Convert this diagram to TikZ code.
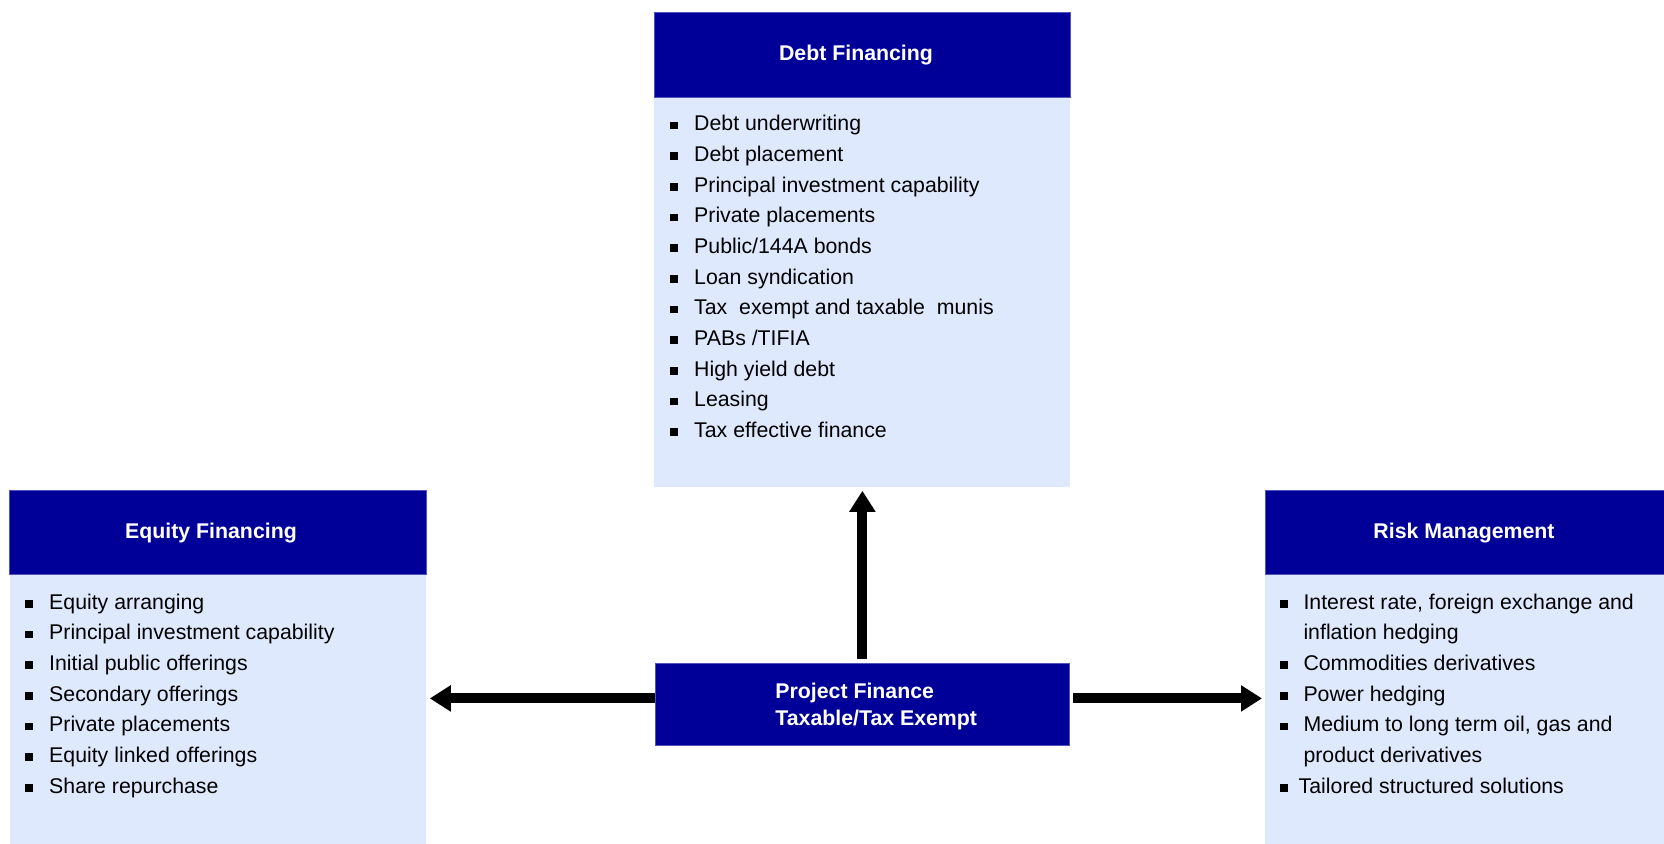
\documentclass[tikz,border=0pt]{standalone}
\usepackage{fontspec}
\setmainfont{Liberation Sans}
\usetikzlibrary{arrows.meta}
\definecolor{hdr}{HTML}{000099}
\definecolor{hdredge}{HTML}{5252BD}
\definecolor{bodyc}{HTML}{DFE9FE}
\newcommand\bitem{\makebox[11.9pt][l]{\rule[0.7pt]{3.9pt}{3.9pt}}}
\newcommand\bitemtight{\makebox[9.5pt][l]{\rule[0.7pt]{3.9pt}{3.9pt}}}
\newcommand\bindent{\hspace*{11.9pt}}
\begin{document}
\begin{tikzpicture}[x=0.5pt,y=-0.5pt,
  hdrbox/.style={fill=hdr, draw=hdredge, line width=0.4pt, inner sep=0pt, anchor=north west},
  bodybox/.style={fill=bodyc, inner sep=0pt, anchor=north west},
  hdrtext/.style={text=white, font=\fontsize{10.65}{13.25}\selectfont\bfseries, inner sep=0pt},
  listtext/.style={font=\fontsize{10.65}{15.33}\selectfont, align=left, anchor=base west, inner sep=0pt},
  bigarrow/.style={line width=5pt, -{Triangle[length=10.5pt,width=12.5pt]}}
]
\useasboundingbox (0,0) rectangle (1664,843);

% Debt Financing
\node[bodybox, minimum width=208pt, minimum height=195pt] (debtbody) at (654,97) {};
\node[hdrbox, minimum width=208pt, minimum height=42.5pt] (debthdr) at (654,12) {};
\node[hdrtext, anchor=base] (debtt) at (856,60) {Debt Financing};
\node[listtext] (debtlist) at (670,437.4) {\bitem Debt underwriting\\\bitem Debt placement\\\bitem Principal investment capability\\\bitem Private placements\\\bitem Public/144A bonds\\\bitem Loan syndication\\\bitem Tax~ exempt and taxable~ munis\\\bitem PABs /TIFIA\\\bitem High yield debt\\\bitem Leasing\\\bitem Tax effective finance};

% Equity Financing
\node[bodybox, minimum width=208pt, minimum height=140pt] (eqbody) at (10,574) {};
\node[hdrbox, minimum width=208.5pt, minimum height=42pt] (eqhdr) at (9,490) {};
\node[hdrtext, anchor=base] (eqt) at (211,538.3) {Equity Financing};
\node[listtext] (eqlist) at (25,793) {\bitem Equity arranging\\\bitem Principal investment capability\\\bitem Initial public offerings\\\bitem Secondary offerings\\\bitem Private placements\\\bitem Equity linked offerings\\\bitem Share repurchase};

% Risk Management
\node[bodybox, minimum width=205pt, minimum height=140pt] (riskbody) at (1265,574) {};
\node[hdrbox, minimum width=205pt, minimum height=42pt] (riskhdr) at (1265,490) {};
\node[hdrtext, anchor=base] (riskt) at (1464,538.3) {Risk Management};
\node[listtext] (risklist) at (1279.3,793) {\bitem Interest rate, foreign exchange and\\\bindent inflation hedging\\\bitem Commodities derivatives\\\bitem Power hedging\\\bitem Medium to long term oil, gas and\\\bindent product derivatives\\\bitemtight Tailored structured solutions};

% Project Finance
\node[hdrbox, minimum width=207pt, minimum height=41pt] (pf) at (655,663) {};
\node[hdrtext, align=left, anchor=base west] (pft) at (775,725) {Project Finance\\Taxable/Tax Exempt};

% Arrows
\coordinate (pfl) at ([yshift=3pt]pf.west);
\coordinate (pfr) at ([yshift=3pt]pf.east);
\draw[bigarrow, shorten >=1.5pt] (pfl) -- (pfl -| eqbody.east);
\draw[bigarrow, shorten <=1.5pt, shorten >=1.5pt] (pfr) -- (pfr -| riskbody.west);
\draw[bigarrow, shorten <=2pt, shorten >=1.5pt] (pf.north) -- (debtbody.south);
\end{tikzpicture}
\end{document}
